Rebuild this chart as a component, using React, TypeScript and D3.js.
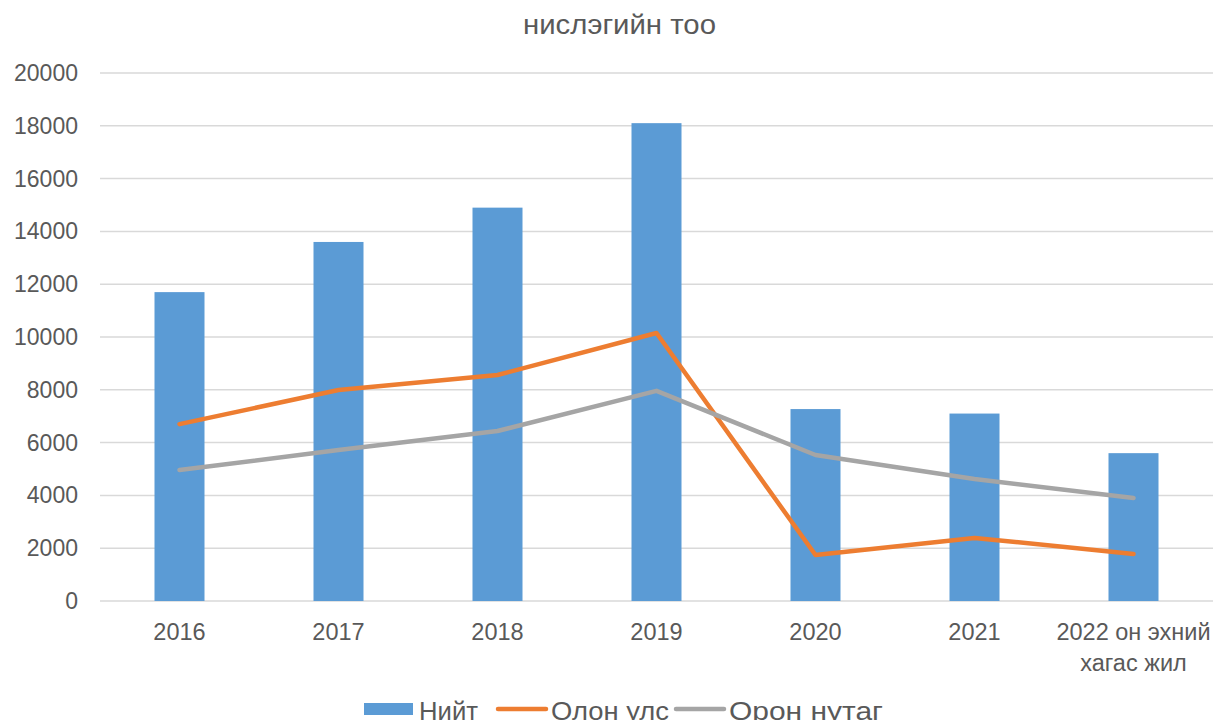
import React from "react";
import * as d3 from "d3";

const categories = ["2016", "2017", "2018", "2019", "2020", "2021", "2022 он эхний\nхагас жил"];
const totalValues = [11700, 13600, 14900, 18100, 7270, 7100, 5600];
const internationalValues = [6700, 7990, 8560, 10150, 1740, 2390, 1780];
const domesticValues = [4960, 5720, 6440, 7960, 5530, 4620, 3900];
const yTicks = [0, 2000, 4000, 6000, 8000, 10000, 12000, 14000, 16000, 18000, 20000];
const title = "нислэгийн тоо";
const seriesNames = ["Нийт", "Олон улс", "Орон нутаг"];

const W = 1214;
const H = 720;
const left = 100;
const right = 1213;
const top = 73;
const bottom = 601;
const textColor = "#595959";
const font = "'Liberation Sans', Arial, sans-serif";
const colors = { bar: "#5b9bd5", orange: "#ed7d31", gray: "#a5a5a5", grid: "#d9d9d9" };

export default function App() {
  const x = d3.scaleBand<string>().domain(categories).range([left, right]).paddingInner(0).paddingOuter(0);
  const y = d3.scaleLinear().domain([0, 20000]).range([bottom, top]);
  const barW = 50;
  const cx = (c: string) => (x(c) as number) + x.bandwidth() / 2;
  const line = d3
    .line<number>()
    .x((_, i) => cx(categories[i]))
    .y((d) => y(d));

  return (
    <svg
      width={W}
      height={H}
      style={{ position: "fixed", left: 0, top: 0, background: "#fff" }}
      fontFamily={font}
    >
      <rect width={W} height={H} fill="#fff" />
      <text x={619.5} y={34} textAnchor="middle" fontSize={27} fill={textColor} textLength={193} lengthAdjust="spacingAndGlyphs">
        {title}
      </text>
      {yTicks.map((t) => (
        <g key={t}>
          <line x1={left} x2={right} y1={y(t)} y2={y(t)} stroke={colors.grid} strokeWidth={1.5} />
          <text x={78} y={y(t)} dy="0.35em" textAnchor="end" fontSize={23} fill={textColor}>
            {t}
          </text>
        </g>
      ))}
      {categories.map((c, i) => (
        <rect
          key={c}
          x={cx(c) - barW / 2}
          y={y(totalValues[i])}
          width={barW}
          height={y(0) - y(totalValues[i])}
          fill={colors.bar}
        />
      ))}
      <path d={line(internationalValues) || ""} fill="none" stroke={colors.orange} strokeWidth={4.5} strokeLinejoin="round" strokeLinecap="round" />
      <path d={line(domesticValues) || ""} fill="none" stroke={colors.gray} strokeWidth={4.5} strokeLinejoin="round" strokeLinecap="round" />
      {categories.map((c) =>
        c.split("\n").map((ln, j) => (
          <text key={c + j} x={cx(c)} y={640 + j * 31} textAnchor="middle" fontSize={23.5} fill={textColor}>
            {ln}
          </text>
        ))
      )}
      <g fontSize={26} fill={textColor}>
        <rect x={364} y={703} width={49} height={12} fill={colors.bar} />
        <text x={419} y={720} textLength={59} lengthAdjust="spacingAndGlyphs">{seriesNames[0]}</text>
        <line x1={498} x2={546} y1={709} y2={709} stroke={colors.orange} strokeWidth={4.5} strokeLinecap="round" />
        <text x={551} y={720} textLength={118} lengthAdjust="spacingAndGlyphs">{seriesNames[1]}</text>
        <line x1={676} x2={724} y1={709} y2={709} stroke={colors.gray} strokeWidth={4.5} strokeLinecap="round" />
        <text x={729} y={720} textLength={154} lengthAdjust="spacingAndGlyphs">{seriesNames[2]}</text>
      </g>
    </svg>
  );
}
